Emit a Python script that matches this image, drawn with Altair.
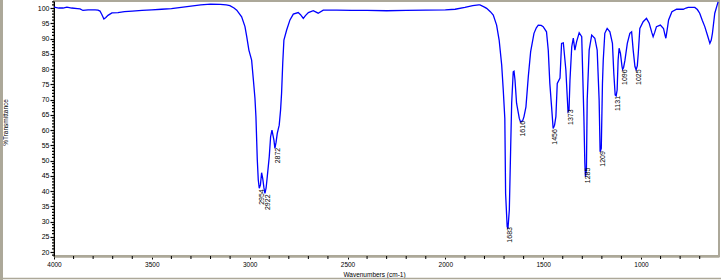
import altair as alt
import pandas as pd

# Spectrum (wavenumber cm-1, %T)
wavenumber = [4000, 3975, 3954, 3934, 3910, 3880, 3867, 3852, 3826, 3790, 3775, 3765, 3755, 3745, 3735,
              3724, 3704, 3673, 3640, 3600, 3550, 3500, 3450, 3400, 3350, 3300, 3250, 3200, 3150, 3120,
              3101, 3080, 3066, 3041, 3024, 3015, 3004, 2990, 2981, 2973, 2968, 2961, 2956, 2951, 2945,
              2939, 2933, 2927, 2922, 2916, 2910, 2900, 2893, 2886, 2876, 2871, 2865, 2859, 2849, 2842,
              2837, 2831, 2825, 2811, 2794, 2777, 2752, 2740, 2726, 2715, 2700, 2675, 2650, 2624, 2555,
              2480, 2400, 2300, 2200, 2100, 2000, 1950, 1900, 1860, 1830, 1823, 1800, 1789, 1770, 1755,
              1738, 1725, 1712, 1704, 1696, 1692, 1684, 1680, 1673, 1666, 1661, 1653, 1649, 1644, 1636,
              1622, 1616, 1605, 1598, 1588, 1576, 1564, 1547, 1535, 1525, 1510, 1500, 1483, 1474, 1466,
              1457, 1449, 1442, 1435, 1428, 1414, 1406, 1397, 1384, 1377, 1373, 1368, 1363, 1354, 1346,
              1338, 1329, 1316, 1303, 1292, 1287, 1284, 1279, 1275, 1265, 1252, 1236, 1224, 1214, 1209,
              1203, 1197, 1193, 1185, 1173, 1159, 1146, 1139, 1132, 1127, 1122, 1117, 1112, 1105, 1097,
              1094, 1089, 1082, 1070, 1057, 1048, 1040, 1031, 1025, 1019, 1014, 1006, 989, 972, 958,
              945, 938, 930, 921, 901, 885, 877, 873, 866, 859, 842, 818, 784, 770, 759,
              725, 712, 700, 687, 674, 660, 648, 641, 635, 623, 606]
transmittance = [100.3, 100.0, 100.0, 100.3, 100.0, 99.8, 99.7, 99.2, 99.4, 99.4, 99.3, 99.0, 97.8, 96.4, 96.9,
                 97.6, 98.4, 98.5, 98.8, 99.0, 99.2, 99.4, 99.6, 99.8, 100.2, 100.6, 101.0, 101.3, 101.2, 101.0,
                 100.8, 100.0, 99.3, 97.1, 93.9, 90.6, 86.2, 82.9, 76.4, 70.4, 64.4, 50.2, 43.6, 40.9, 42.0,
                 46.0, 44.0, 41.0, 39.2, 41.0, 44.7, 51.2, 57.8, 60.0, 56.7, 54.0, 56.0, 58.9, 61.6, 66.6,
                 72.0, 81.9, 89.5, 92.8, 96.1, 98.0, 98.5, 97.8, 96.6, 97.5, 98.5, 99.1, 98.3, 99.3, 99.3,
                 99.2, 99.2, 99.1, 99.2, 99.3, 99.4, 99.6, 100.2, 100.8, 101.0, 101.0, 100.3, 99.9, 98.8, 97.7,
                 94.4, 89.5, 81.3, 73.1, 63.8, 39.2, 28.3, 27.6, 33.8, 54.5, 68.8, 79.1, 79.3, 76.4, 68.8,
                 63.8, 62.7, 63.0, 64.4, 67.6, 77.5, 85.7, 91.7, 93.5, 94.4, 94.3, 93.9, 92.2, 86.2, 75.3,
                 67.6, 60.5, 61.5, 64.4, 75.3, 77.0, 88.4, 88.6, 79.7, 70.9, 66.0, 66.5, 76.4, 87.3, 90.1,
                 86.2, 89.0, 91.9, 90.6, 64.4, 49.1, 44.7, 47.0, 69.8, 86.2, 91.1, 90.1, 86.2, 69.8, 52.9,
                 54.0, 75.3, 82.9, 91.7, 93.3, 92.2, 88.4, 78.6, 71.5, 71.2, 73.1, 82.9, 86.8, 85.1, 80.8,
                 79.9, 80.5, 82.9, 88.4, 91.7, 92.2, 86.2, 80.8, 79.7, 81.0, 85.1, 93.3, 95.5, 96.6, 95.0,
                 92.0, 90.6, 92.0, 93.9, 94.4, 93.3, 91.0, 90.1, 93.0, 96.1, 98.8, 99.6, 99.6, 100.0, 100.2,
                 100.2, 99.5, 98.3, 96.0, 93.9, 91.0, 88.4, 89.5, 91.7, 98.3, 102.0]

# Peak annotations
peak_wavenumber = [2954, 2922, 2872, 1683, 1616, 1456, 1373, 1285, 1209, 1131, 1096, 1025]
peak_transmittance = [40.9, 39.2, 54.5, 28.5, 63.3, 60.6, 67.1, 48.0, 53.4, 71.5, 80.2, 80.2]
peak_label = ["2954", "2922", "2872", "1683", "1616", "1456", "1373", "1285", "1209", "1131", "1096", "1025"]

# Axis ticks
x_major = [4000, 3500, 3000, 2500, 2000, 1500, 1000]
x_minor = [v for v in range(4000, 600, -100) if v % 500 != 0]
y_major = list(range(20, 101, 5))
y_minor = [v for v in range(19, 103) if v % 5 != 0]

FONT = "Liberation Sans"
FRAME = "#aca899"

spectrum = pd.DataFrame({"w": wavenumber, "t": transmittance})
peaks = pd.DataFrame({"w": peak_wavenumber, "t": peak_transmittance, "label": peak_label})
xminor_df = pd.DataFrame({"w": x_minor})
yminor_df = pd.DataFrame({"t": y_minor})

xscale = alt.Scale(domain=[601.4, 4000], reverse=True, nice=False, zero=False)
yscale = alt.Scale(domain=[18.69, 102.3], nice=False, zero=False)

x_axis = alt.Axis(
    values=x_major, format="d",
    title="Wavenumbers (cm-1)", titleFont=FONT, titleFontSize=6.5, titleFontWeight="normal",
    titleX=320, titleY=18, titleAlign="center", titleBaseline="middle",
    labelFont=FONT, labelFontSize=6.5, labelPadding=2, labelOverlap=False, labelFlush=False,
    tickColor="black", tickSize=3, tickWidth=1,
    domainColor=FRAME, domainWidth=2.5, grid=False, labelColor="black", titleColor="black",
)
y_axis = alt.Axis(
    values=y_major, format="d",
    title="%Transmittance", titleFont=FONT, titleFontSize=6.5, titleFontWeight="normal",
    titleX=-49, titleY=121, titleAngle=270, titleAlign="center", titleBaseline="middle",
    labelFont=FONT, labelFontSize=7, labelPadding=1, labelOverlap=False, labelFlush=False,
    tickColor="black", tickWidth=1.2, tickSize=4,
    domainColor="black", domainWidth=1, grid=False, labelColor="black", titleColor="black",
)

line = alt.Chart(spectrum).mark_line(color="#0000ff", strokeWidth=1.3, clip=True).encode(
    x=alt.X("w:Q", scale=xscale, axis=x_axis),
    y=alt.Y("t:Q", scale=yscale, axis=y_axis),
    order=alt.Order("w:Q", sort="descending"),
)

labels = alt.Chart(peaks).mark_text(
    angle=270, align="right", baseline="middle", dx=-1, dy=3,
    font=FONT, fontSize=7, color="black",
).encode(
    x=alt.X("w:Q", scale=xscale, axis=x_axis),
    y=alt.Y("t:Q", scale=yscale, axis=y_axis),
    text="label:N",
)

x_minor_ticks = alt.Chart(xminor_df).mark_rule(color="black", strokeWidth=1).encode(
    x=alt.X("w:Q", scale=xscale, axis=x_axis),
    y=alt.value(255), y2=alt.value(258),
)
y_minor_ticks = alt.Chart(yminor_df).mark_rule(color="black", strokeWidth=1.2).encode(
    y=alt.Y("t:Q", scale=yscale, axis=y_axis),
    x=alt.value(-2), x2=alt.value(0),
)

frame_df = pd.DataFrame({"k": [0]})
left_frame = alt.Chart(frame_df).mark_rule(color=FRAME, strokeWidth=3).encode(
    x=alt.value(-52.5), y=alt.value(-1), y2=alt.value(279)
)
bottom_frame = alt.Chart(frame_df).mark_rule(color=FRAME, strokeWidth=1.5).encode(
    x=alt.value(-54), x2=alt.value(667), y=alt.value(277.5)
)

chart = alt.layer(line, labels, x_minor_ticks, y_minor_ticks, left_frame, bottom_frame).properties(
    width=665, height=255,
    autosize=alt.AutoSizeParams(type="none"),
    padding={"left": 54, "top": 1, "right": 2, "bottom": 24},
    background="white",
).configure_view(stroke=FRAME, strokeWidth=2)

chart.save("out.html", embed_options={"renderer": "svg", "actions": False})
